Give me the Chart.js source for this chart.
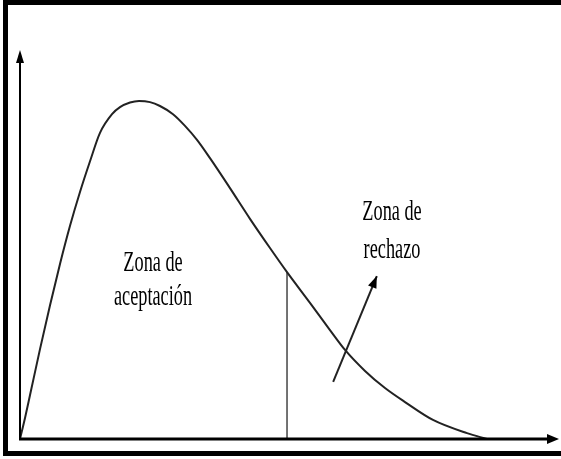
<!DOCTYPE html>
<html>
<head>
<meta charset="utf-8">
<script src="https://cdn.jsdelivr.net/npm/chart.js@4/dist/chart.umd.min.js"></script>
<style>
  html, body { margin: 0; padding: 0; background: #fff; overflow: hidden; }
  #wrap { position: relative; width: 561px; height: 459px; overflow: hidden; }
  #frame {
    position: absolute; left: 3px; top: 0px;
    width: 640px; height: 446px;
    border: 5px solid #000;
  }
  #chart { position: absolute; left: 0; top: 0; }
</style>
</head>
<body>
<div id="wrap">
  <div id="frame"></div>
  <canvas id="chart" width="561" height="459"></canvas>
</div>
<script>
// curva de densidad
const curveX = [0, 0.093, 0.186, 0.371, 0.557, 0.742, 0.928, 1.113, 1.299, 1.484, 1.707, 1.855, 2.041, 2.208, 2.412, 2.597, 2.839, 3.061, 3.284, 3.525, 3.896, 4.267, 4.638, 4.954, 5.380, 5.751, 6.030, 6.401, 6.772, 7.143, 7.662, 8.293, 8.664];
const curveY = [0, 0.054, 0.113, 0.231, 0.344, 0.450, 0.548, 0.635, 0.714, 0.787, 0.835, 0.853, 0.865, 0.869, 0.866, 0.856, 0.835, 0.805, 0.769, 0.722, 0.645, 0.566, 0.491, 0.429, 0.350, 0.280, 0.229, 0.175, 0.131, 0.095, 0.049, 0.015, 0];

// valor crítico (línea vertical)
const criticalX = 4.954;
const criticalY = 0.429;

// flecha hacia "Zona de rechazo"
const arrowX = [5.81, 6.62];
const arrowY = [0.147, 0.419];

// etiquetas
const labelLines = [
  { text: "Zona de", x: 2.468, y: 0.432 },
  { text: "aceptación", x: 2.468, y: 0.344 },
  { text: "Zona de", x: 6.902, y: 0.563 },
  { text: "rechazo", x: 6.902, y: 0.465 }
];

const curvePoints = curveX.map((x, i) => ({ x: x, y: curveY[i] }));

const overlay = {
  id: 'overlay',
  afterDraw(chart) {
    const ctx = chart.ctx;
    const xs = chart.scales.x;
    const ys = chart.scales.y;
    const x0 = xs.getPixelForValue(0);
    const y0 = ys.getPixelForValue(0);
    const xEnd = xs.getPixelForValue(xs.max);
    const yEnd = ys.getPixelForValue(ys.max);

    ctx.save();
    ctx.strokeStyle = '#000';
    ctx.fillStyle = '#000';

    // eje y
    ctx.lineWidth = 2;
    ctx.beginPath();
    ctx.moveTo(x0, y0);
    ctx.lineTo(x0, yEnd + 8);
    ctx.stroke();
    ctx.beginPath();
    ctx.moveTo(x0, yEnd);
    ctx.lineTo(x0 - 4, yEnd + 13);
    ctx.lineTo(x0 + 4, yEnd + 13);
    ctx.closePath();
    ctx.fill();

    // eje x
    ctx.lineWidth = 3;
    ctx.beginPath();
    ctx.moveTo(x0 - 1, y0);
    ctx.lineTo(xEnd - 6, y0);
    ctx.stroke();
    ctx.beginPath();
    ctx.moveTo(xEnd, y0);
    ctx.lineTo(xEnd - 12, y0 - 5);
    ctx.lineTo(xEnd - 12, y0 + 5);
    ctx.closePath();
    ctx.fill();

    // punta de la flecha
    const ax = xs.getPixelForValue(arrowX[1]);
    const ay = ys.getPixelForValue(arrowY[1]);
    const bx = xs.getPixelForValue(arrowX[0]);
    const by = ys.getPixelForValue(arrowY[0]);
    const ang = Math.atan2(ay - by, ax - bx);
    ctx.beginPath();
    ctx.moveTo(ax, ay);
    ctx.lineTo(ax - 12 * Math.cos(ang) + 4.5 * Math.sin(ang), ay - 12 * Math.sin(ang) - 4.5 * Math.cos(ang));
    ctx.lineTo(ax - 12 * Math.cos(ang) - 4.5 * Math.sin(ang), ay - 12 * Math.sin(ang) + 4.5 * Math.cos(ang));
    ctx.closePath();
    ctx.fill();

    // textos (serif estrecha)
    ctx.font = '29px "Liberation Serif", "DejaVu Serif", serif';
    ctx.textAlign = 'center';
    ctx.textBaseline = 'alphabetic';
    ctx.fillStyle = '#000';
    labelLines.forEach(l => {
      ctx.save();
      ctx.translate(xs.getPixelForValue(l.x), ys.getPixelForValue(l.y));
      ctx.scale(0.63, 1);
      ctx.fillText(l.text, 0, 0);
      ctx.restore();
    });
    ctx.restore();
  }
};

new Chart(document.getElementById('chart'), {
  type: 'line',
  data: {
    datasets: [
      {
        data: curvePoints,
        borderColor: '#222',
        borderWidth: 2,
        pointRadius: 0,
        cubicInterpolationMode: 'monotone',
        fill: false
      },
      {
        data: [{ x: criticalX, y: 0 }, { x: criticalX, y: criticalY }],
        borderColor: '#444',
        borderWidth: 1.5,
        pointRadius: 0,
        fill: false
      },
      {
        data: arrowX.map((x, i) => ({ x: x, y: arrowY[i] })),
        borderColor: '#222',
        borderWidth: 2,
        pointRadius: 0,
        fill: false
      }
    ]
  },
  options: {
    responsive: false,
    animation: false,
    layout: { padding: { left: 20, right: 2, top: 50, bottom: 20 } },
    plugins: { legend: { display: false }, tooltip: { enabled: false } },
    scales: {
      x: { type: 'linear', min: 0, max: 10, display: false },
      y: { min: 0, max: 1, display: false }
    }
  },
  plugins: [overlay]
});
</script>
</body>
</html>
